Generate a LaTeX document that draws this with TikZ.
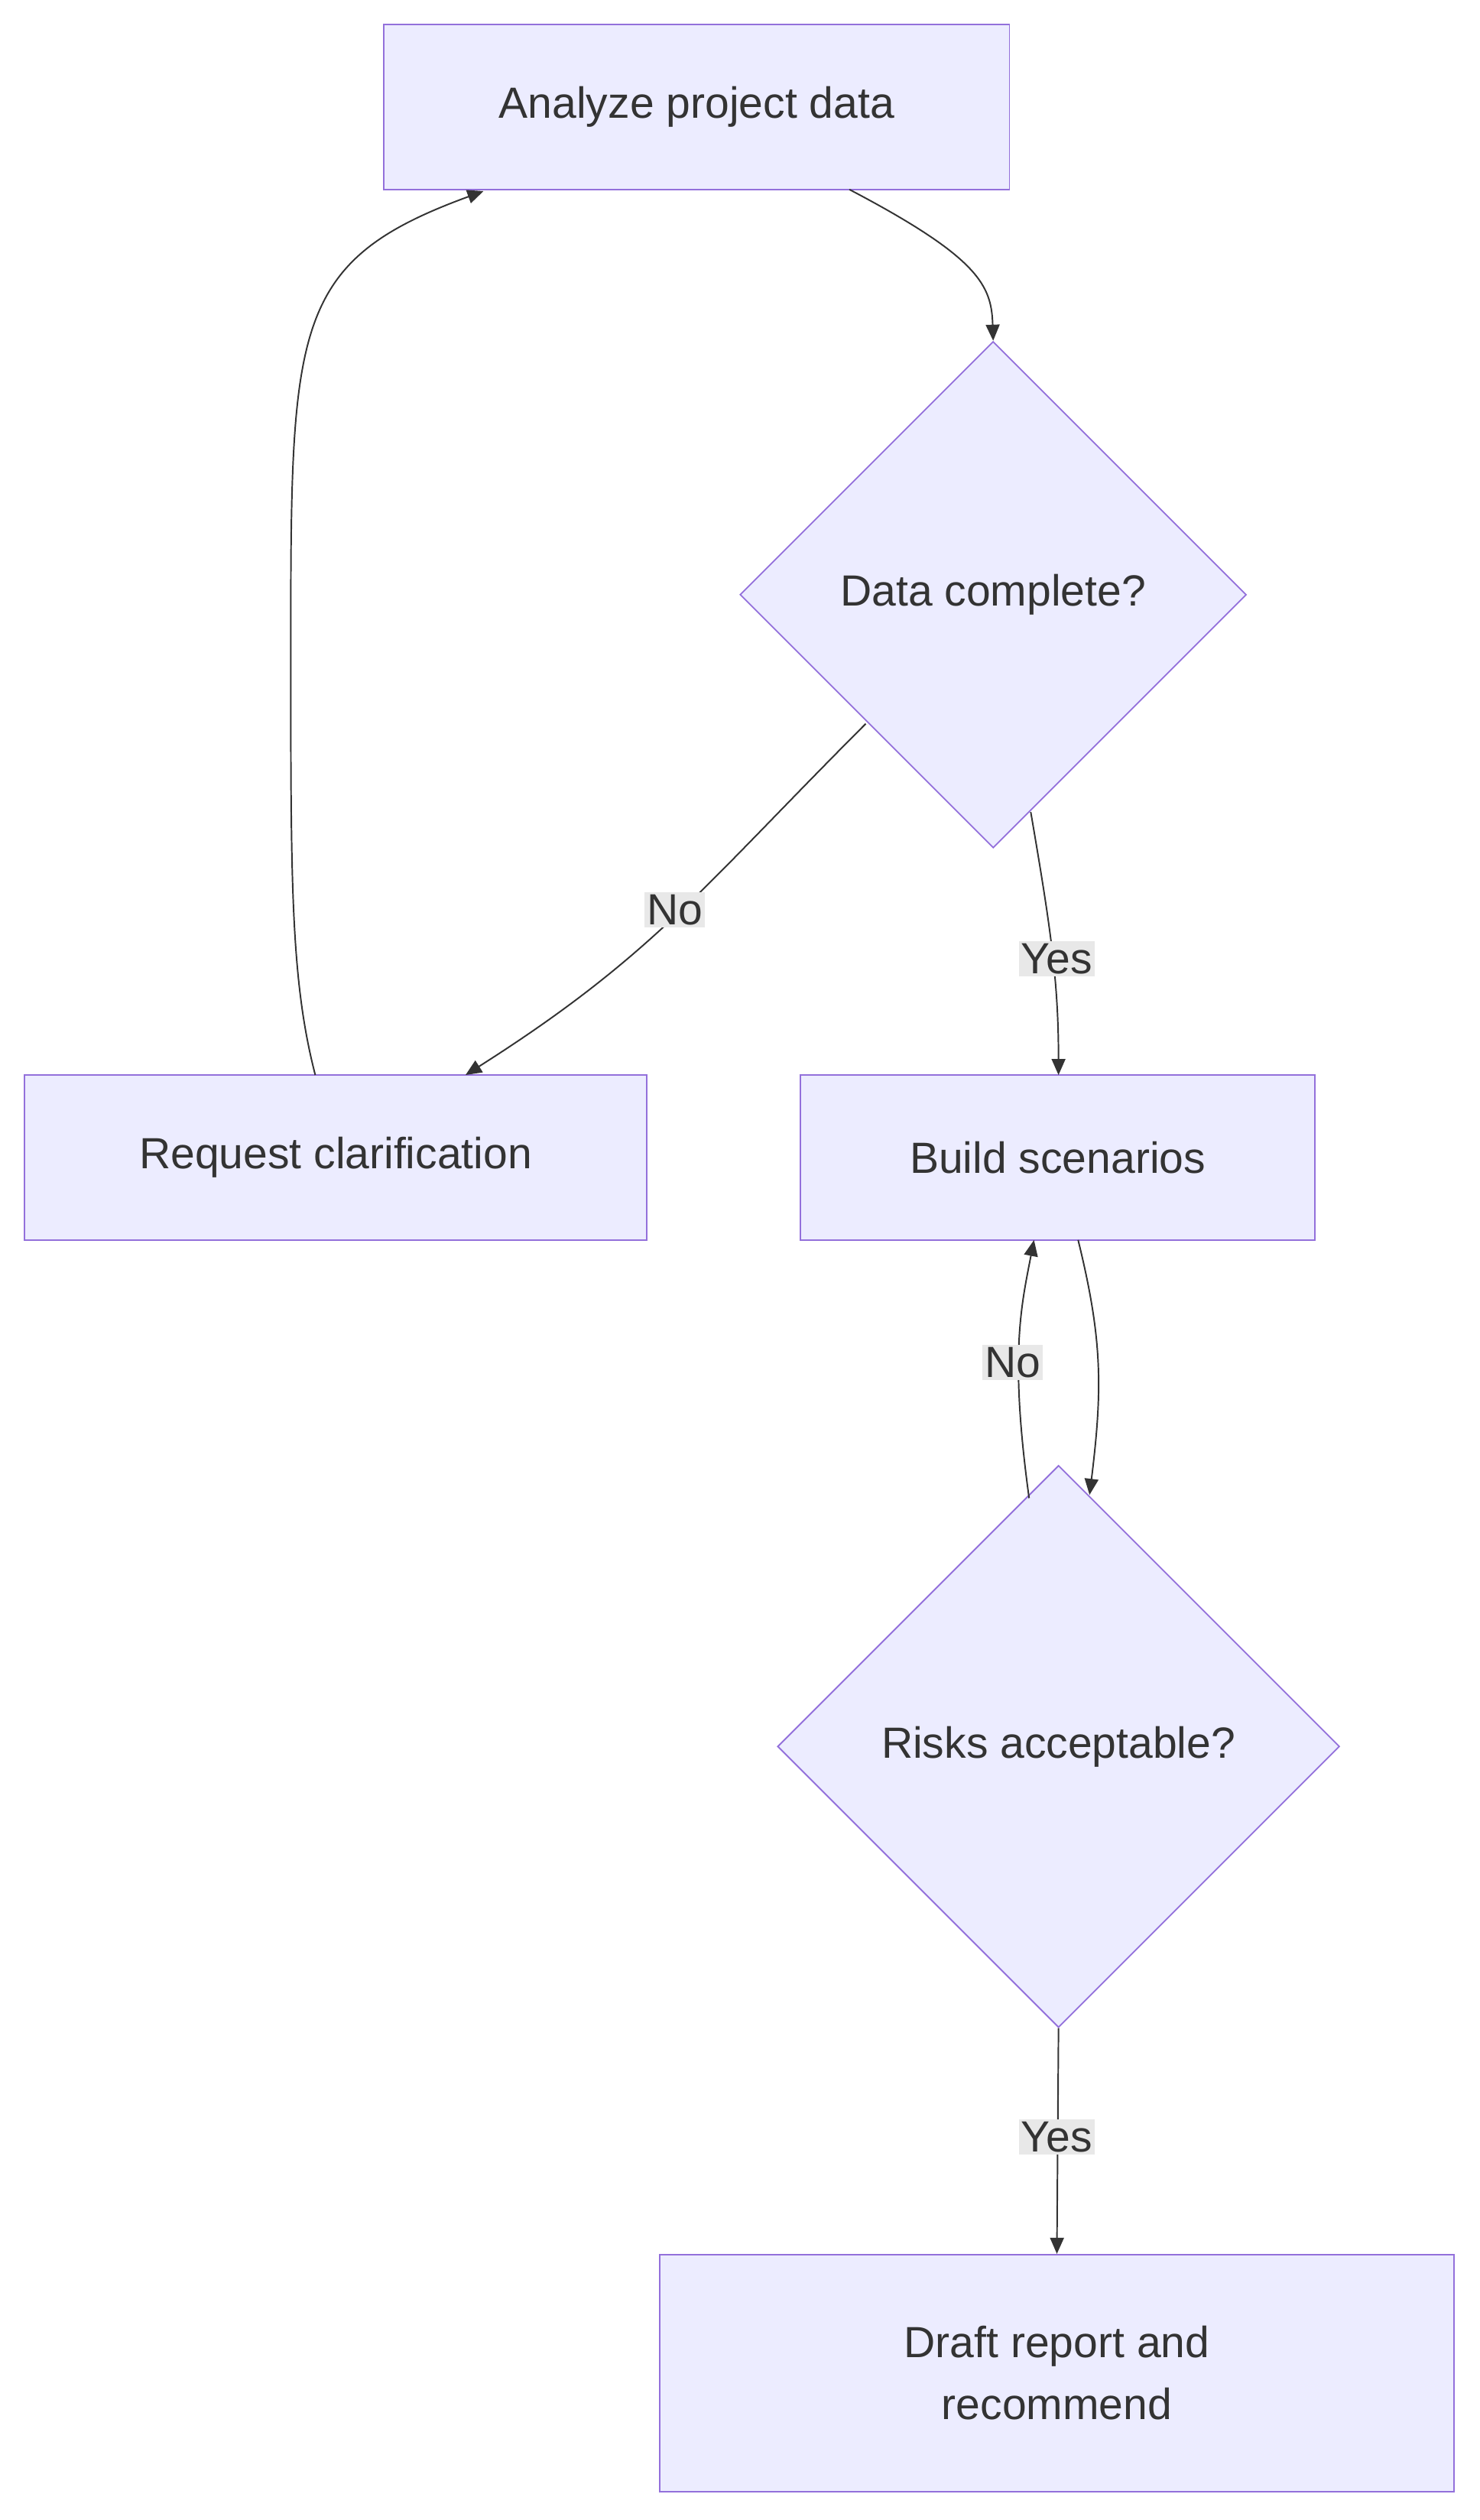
\documentclass[tikz,border=0pt]{standalone}
\usepackage{fontspec}
\setmainfont{Liberation Sans}
\usetikzlibrary{shapes.geometric,arrows.meta}
\definecolor{nf}{HTML}{ECECFF}
\definecolor{ns}{HTML}{9370DB}
\definecolor{tx}{HTML}{333333}
\definecolor{lb}{HTML}{E8E8E8}
\begin{document}
\begin{tikzpicture}[x=0.05cm,y=-0.05cm,
  box/.style={draw=ns,fill=nf,line width=1.2pt,text=tx,font=\fontsize{38}{54}\selectfont,align=center,inner sep=0pt},
  dia/.style={diamond,draw=ns,fill=nf,line width=1.2pt,text=tx,font=\fontsize{38}{54}\selectfont,inner sep=0pt},
  lab/.style={fill=lb,text=tx,font=\fontsize{38}{46}\selectfont,inner sep=2pt},
  ar/.style={draw=tx,line width=1.3pt,-{Triangle[length=14pt,width=12pt]}}]
\useasboundingbox (0,0) rectangle (906,1542.5);
\node[box,minimum width=383*0.05cm,minimum height=101*0.05cm] (A) at (426.5,65.5) {Analyze project data};
\node[dia,minimum width=310*0.05cm,minimum height=310*0.05cm] (D1) at (608,364) {Data complete?};
\node[box,minimum width=381*0.05cm,minimum height=101*0.05cm] (R) at (205.5,708.5) {Request clarification};
\node[box,minimum width=315*0.05cm,minimum height=101*0.05cm] (B) at (647.5,708.5) {Build scenarios};
\node[dia,minimum width=344*0.05cm,minimum height=344*0.05cm] (D2) at (648,1069) {Risks acceptable?};
\node[box,minimum width=486*0.05cm,minimum height=145*0.05cm] (F) at (647,1452.5) {Draft report and\\recommend};
\coordinate (a1) at (520,116);
\coordinate (d1l) at (530,443);
\coordinate (d1b) at (631,497);
\coordinate (r1) at (193,658);
\coordinate (b1) at (660,759);
\coordinate (b2) at (633,759);
\coordinate (d2t1) at (667,915);
\coordinate (d2t2) at (630,917);
\draw[ar] (a1) .. controls (600,158) and (607,175) .. (D1.north);
\draw[ar] (d1l) .. controls (430,543) and (400,585) .. (285,658);
\node[lab] (n1) at (413,557) {No};
\draw[ar] (d1b) .. controls (643,567) and (648,600) .. (648,658);
\node[lab] (y1) at (647,587) {Yes};
\draw[ar] (r1) .. controls (178,600) and (178,540) .. (178,400) .. controls (178,200) and (178,160) .. (296,117);
\draw[ar] (b1) .. controls (675,820) and (675,850) .. (d2t1);
\draw[ar] (d2t2) .. controls (618,830) and (625,800) .. (b2);
\node[lab] (n2) at (620,834) {No};
\draw[ar] (D2.south) -- (F.north);
\node[lab] (y2) at (647,1308) {Yes};
\end{tikzpicture}
\end{document}
